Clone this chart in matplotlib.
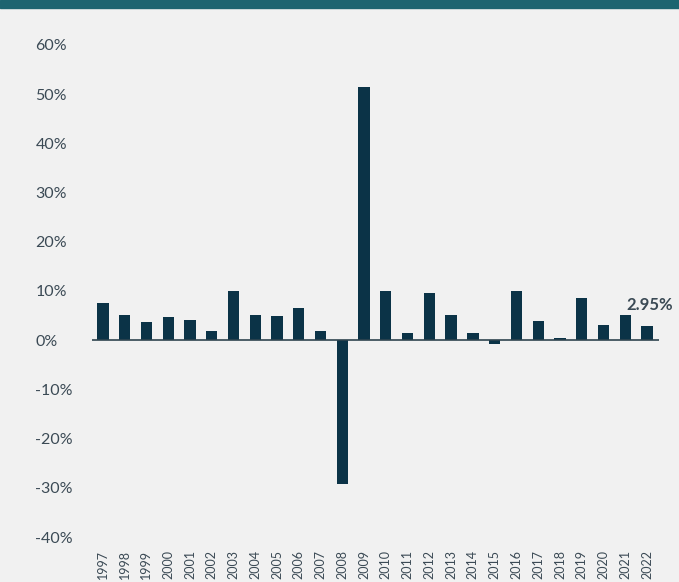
import matplotlib
matplotlib.use("Agg")

import numpy as np
import matplotlib.pyplot as plt
from matplotlib.patches import Rectangle

#--------------------------------
# DATA
#--------------------------------
years = [str(y) for y in range(1997, 2023)]
returns = [7.5, 5.2, 3.6, 4.8, 4.1, 1.8, 9.9, 5.1, 4.9, 6.6, 1.9, -29.2, 51.5,
           10.0, 1.5, 9.5, 5.2, 1.5, -0.8, 10.0, 4.0, 0.4, 8.5, 3.0, 5.1, 2.95]
y_ticks = [-40, -30, -20, -10, 0, 10, 20, 30, 40, 50, 60]

BG = "#f1f1f1"
BAR = "#0b3347"
TEXT = "#3b4a55"
BAND = "#1d6470"

plt.rcParams['font.family'] = ['Lato', 'DejaVu Sans']

fig = plt.figure(figsize=(6.79, 5.82), dpi=100)
fig.patch.set_facecolor(BG)
ax = fig.add_axes([0.1355, 0.0773, 0.835, 0.8454])
ax.set_facecolor(BG)

# bande du haut
fig.patches.append(Rectangle((0, 1 - 8 / 582), 1, 8 / 582, transform=fig.transFigure,
                             color=BAND, zorder=5))

x = np.arange(len(years))
ax.bar(x, returns, width=0.52, color=BAR, zorder=3)
ax.axhline(0, color="#2f4550", lw=1.2, zorder=4)

ax.set_xlim(-0.5, len(years) - 0.45)
ax.set_ylim(-40, 60)
ax.set_yticks(y_ticks)
ax.set_yticklabels([f"{t}%" for t in y_ticks], fontsize=11.5, color=TEXT)
ax.set_xticks(x)
ax.set_xticklabels(years, rotation=90, fontsize=9, color=TEXT, va="top")
ax.tick_params(axis="both", length=0)
ax.tick_params(axis="y", pad=0)
ax.tick_params(axis="x", pad=9)
for lbl in ax.get_yticklabels():
    lbl.set_horizontalalignment("left")
    lbl.set_x(-0.1)

for s in ax.spines.values():
    s.set_visible(False)

ax.annotate(f"{returns[-1]:.2f}%", (x[-1], returns[-1]), xytext=(2, 9),
            textcoords="offset points", ha="center", va="bottom",
            fontsize=12, fontweight="bold", color=TEXT)

fig.savefig("out.png", dpi=100, facecolor=BG)
